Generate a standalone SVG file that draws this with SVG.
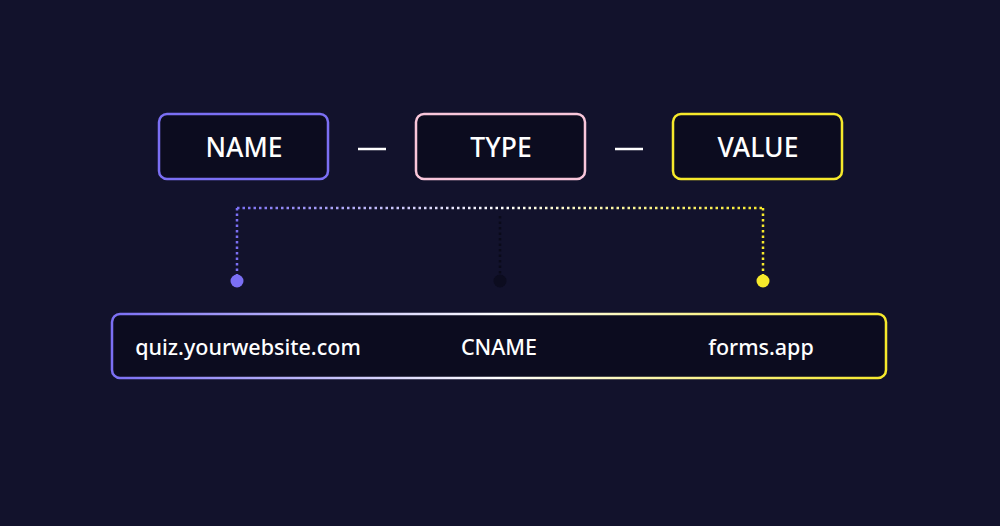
<svg xmlns="http://www.w3.org/2000/svg" width="1000" height="526" viewBox="0 0 1000 526">
<defs>
<linearGradient id="gline" gradientUnits="userSpaceOnUse" x1="237" y1="0" x2="763" y2="0">
<stop offset="0" stop-color="#7b6ff4"/>
<stop offset="0.5" stop-color="#ffffff"/>
<stop offset="1" stop-color="#f6e92b"/>
</linearGradient>
<linearGradient id="gbox" gradientUnits="userSpaceOnUse" x1="112" y1="0" x2="886" y2="0">
<stop offset="0" stop-color="#7b6ff4"/>
<stop offset="0.5" stop-color="#ffffff"/>
<stop offset="1" stop-color="#f6e92b"/>
</linearGradient>
<style>
.box{fill:#0c0c1f;stroke-width:2.5}
.lbl{font-family:"Noto Sans","Open Sans",sans-serif;font-weight:500;fill:#ffffff;text-anchor:middle}
.big{font-size:26.5px}
.small{font-size:21.5px}
.dash{stroke:#ffffff;stroke-width:2.5}
.dot{stroke-width:2.5;stroke-dasharray:2.5 3;fill:none}
</style>
</defs>
<rect width="1000" height="526" fill="#12122c"/>
<g id="name">
<rect class="box" x="159" y="114" width="169" height="65" rx="8" stroke="#7b6ff4"/>
<text class="lbl big" x="244" y="157">NAME</text>
</g>
<g id="type">
<rect class="box" x="416" y="114" width="169" height="65" rx="8" stroke="#f9c6da"/>
<text class="lbl big" x="501" y="157">TYPE</text>
</g>
<g id="value">
<rect class="box" x="673" y="114" width="169" height="65" rx="8" stroke="#f6e92b"/>
<text class="lbl big" x="758" y="157">VALUE</text>
</g>
<g id="separators">
<line class="dash" x1="358" y1="149" x2="386" y2="149"/>
<line class="dash" x1="615" y1="149" x2="643" y2="149"/>
</g>
<g id="connectors">
<line class="dot" x1="237" y1="208" x2="763" y2="208" stroke="url(#gline)"/>
<line class="dot" x1="237" y1="208" x2="237" y2="275" stroke="#7b6ff4"/>
<line class="dot" x1="763" y1="208" x2="763" y2="275" stroke="#f6e92b"/>
<line class="dot" x1="500" y1="216" x2="500" y2="275" stroke="#0a0a1a"/>
<circle cx="237" cy="281" r="6.5" fill="#7b6ff4"/>
<circle cx="500" cy="281" r="6.5" fill="#0c0c1f"/>
<circle cx="763" cy="281" r="6.5" fill="#f6e92b"/>
</g>
<g id="record">
<rect class="box" x="112" y="314" width="774" height="64" rx="8" stroke="url(#gbox)"/>
<text class="lbl small" x="248" y="355">quiz.yourwebsite.com</text>
<text class="lbl small" x="499" y="355">CNAME</text>
<text class="lbl small" x="761" y="355">forms.app</text>
</g>
</svg>
